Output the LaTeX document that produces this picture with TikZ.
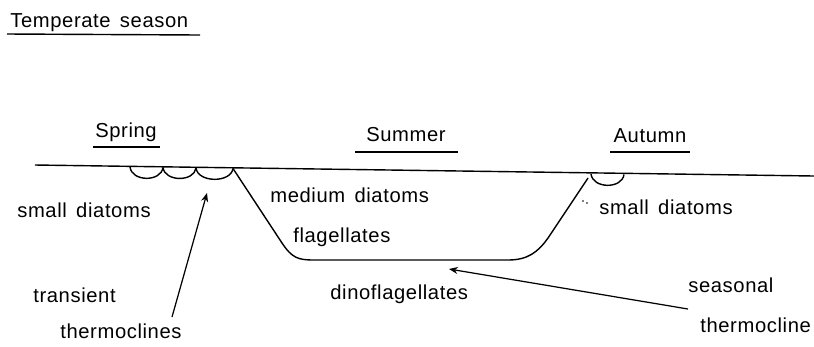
\documentclass[tikz,border=0pt]{standalone}
\usepackage{fontspec}
\setmainfont[LetterSpace=3,WordSpace=1.5]{Liberation Sans}
\usetikzlibrary{arrows.meta}

\tikzset{
    txt/.style={font=\fontsize{11.5}{13}\selectfont, inner sep=0pt, anchor=base west},
    rule/.style={line width=0.8pt},
    pointer/.style={line width=0.7pt, -{Stealth[length=5pt,width=4pt]}}
}

\begin{document}
\begin{tikzpicture}[
    >=Stealth,
    x=0.02cm, y=-0.02cm % 像素坐标
]
\useasboundingbox (0,0) rectangle (814,346);

% ========== 标题 ==========
\node[txt] (title) at (10,27) {Temperate season};
\draw[rule] (7,34) -- (200,35);

% ========== 季节 ==========
\node[txt, anchor=base] (spring) at (126,137) {Spring};
\node[txt, anchor=base] (summer) at (406,141) {Summer};
\node[txt, anchor=base] (autumn) at (650,142) {Autumn};
\draw[rule] (93,147) -- (160,147);
\draw[rule] (355,152) -- (458,152);
\draw[rule] (610,152) -- (690,152);

% ========== 水面与温跃层 ==========
\draw[rule] (35,165) -- (814,176); % 水面
% 春季：短暂温跃层
\draw[rule] (130,167) .. controls (132,182) and (161,182) .. (163,167.5);
\draw[rule] (163,167.5) .. controls (165,182) and (194,182) .. (196,168);
\draw[rule] (196,168) .. controls (198,183) and (231,183) .. (233,168.5);
% 夏季：季节性温跃层
\draw[rule] (233,168.5) -- (282,243)
    .. controls (292,258) and (298,260) .. (314,260) -- (508,260)
    .. controls (528,260) and (538,252) .. (548,238) -- (588,178);
% 秋季
\draw[rule] (591,174) .. controls (593,189) and (622,189) .. (624,174.5);
\fill (583,201) circle (0.8) (587,203) circle (0.8);

% ========== 浮游植物 ==========
\node[txt] (smallL) at (17,217) {small diatoms};
\node[txt] (medium) at (270,202) {medium diatoms};
\node[txt] (flag) at (293,242) {flagellates};
\node[txt] (dino) at (330,299) {dinoflagellates};
\node[txt] (smallR) at (599,214) {small diatoms};

% ========== 标注 ==========
\node[txt] (transient) at (33,302) {transient};
\node[txt] (thermos) at (60,338) {thermoclines};
\node[txt] (seasonal) at (688,292) {seasonal};
\node[txt] (thermo) at (700,332) {thermocline};

\coordinate (tA) at (172,317);
\coordinate (tB) at (207,193);
\coordinate (sA) at (688,309);
\coordinate (sB) at (449,269);
\draw[pointer] (tA) -- (tB);
\draw[pointer] (sA) -- (sB);

\end{tikzpicture}
\end{document}
